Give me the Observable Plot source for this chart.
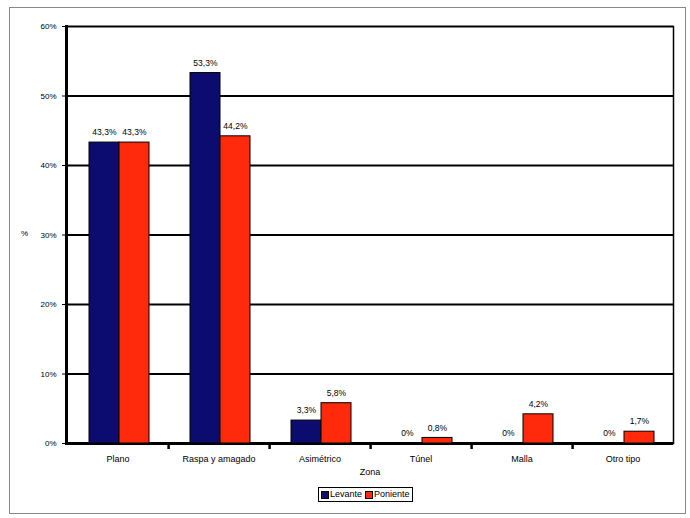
<!DOCTYPE html>
<html><head><meta charset="utf-8">
<script src="https://cdn.jsdelivr.net/npm/d3@7"></script>
<script src="https://cdn.jsdelivr.net/npm/@observablehq/plot@0.6"></script>
<style>
body{margin:0;background:#fff;font-family:"Liberation Sans",Arial,sans-serif;}
#wrap{position:relative;width:690px;height:518px;}
#frame{position:absolute;left:9px;top:7px;width:677px;height:507px;border:1px solid #888;box-sizing:border-box;}
#chart{position:absolute;left:0;top:0;}
#legend{position:absolute;left:318px;top:487px;border:1.5px solid #000;font-size:9px;padding:1px 2px;display:flex;gap:3px;align-items:center;background:#fff;line-height:11px;}
#legend span.sw{display:inline-block;width:6px;height:6px;border:1px solid #000;margin-right:1px;vertical-align:middle;}
#ylab{position:absolute;left:21px;top:229px;font-size:8px;}
</style></head>
<body>
<div id="wrap"><div id="frame"></div><div id="chart"></div><div id="ylab">%</div>
<div id="legend"><span><span class="sw" style="background:#0c0c70"></span>Levante</span><span><span class="sw" style="background:#ff2a0c"></span>Poniente</span></div>
</div>
<script>
const categories = ["Plano", "Raspa y amagado", "Asimétrico", "Túnel", "Malla", "Otro tipo"];
const levante = [43.3, 53.3, 3.3, 0, 0, 0];
const poniente = [43.3, 44.2, 5.8, 0.8, 4.2, 1.7];
const yTicks = [0, 10, 20, 30, 40, 50, 60];
const seriesNames = ["Levante", "Poniente"];
const colors = ["#0c0c70", "#ff2a0c"];

const fmt = v => (v === 0 ? "0" : String(v).replace(".", ",")) + "%";
const lev = categories.map((c, i) => ({zona: c, v: levante[i]}));
const pon = categories.map((c, i) => ({zona: c, v: poniente[i]}));

const chart = Plot.plot({
  width: 690, height: 485,
  marginTop: 26, marginRight: 17, marginBottom: 42, marginLeft: 66,
  style: {fontFamily: "Liberation Sans, Arial, sans-serif", fontSize: "9px", color: "#000", background: "transparent"},
  x: {type: "band", domain: categories, padding: 0, label: "Zona"},
  y: {domain: [0, 60], ticks: yTicks, tickFormat: d => d + "%"},
  marks: [
    Plot.ruleY(yTicks, {stroke: "#000", strokeWidth: 2}),
    Plot.frame({anchor: "right", stroke: "#000", strokeWidth: 1.5}),
    Plot.ruleY([0], {stroke: "#000", strokeWidth: 3}),
    Plot.barY(lev, {x: "zona", y: "v", fill: colors[0], stroke: "#000", strokeWidth: 1, insetLeft: 22, insetRight: 49}),
    Plot.barY(pon, {x: "zona", y: "v", fill: colors[1], stroke: "#000", strokeWidth: 1, insetLeft: 52, insetRight: 19}),
    Plot.text(lev, {x: "zona", y: "v", text: d => fmt(d.v), dx: -13.6, dy: -10, fontSize: 8.5}),
    Plot.text(pon, {x: "zona", y: "v", text: d => fmt(d.v), dx: 16.4, dy: -10, fontSize: 8.5}),
    Plot.axisX({ticks: categories.slice(0, -1), tickSize: 6, text: null, label: null, dx: 50.6, strokeWidth: 2.5, stroke: "#000"}),
    Plot.frame({anchor: "left", stroke: "#000", strokeWidth: 3}),
    Plot.axisY({ticks: yTicks, tickFormat: d => d + "%", tickSize: 4, tickPadding: 6, label: null, fontSize: 8}),
    Plot.axisX({tickSize: 0, tickPadding: 12, label: "Zona", labelAnchor: "center", labelArrow: "none", labelOffset: 31, fontSize: 9})
  ]
});
document.getElementById("chart").append(chart);
</script>
</body></html>
